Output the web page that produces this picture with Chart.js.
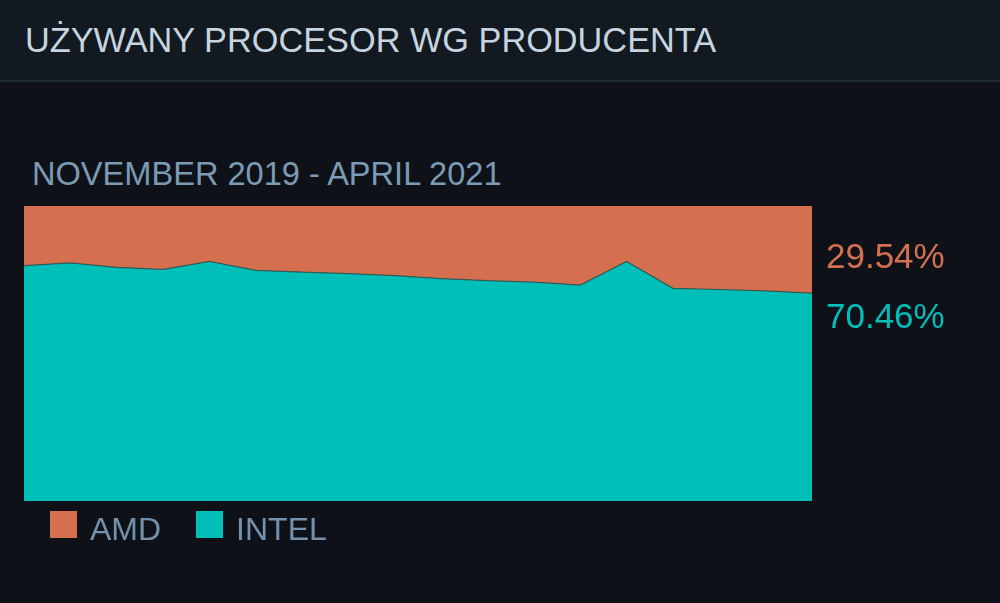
<!DOCTYPE html>
<html>
<head>
<meta charset="utf-8">
<script src="https://cdn.jsdelivr.net/npm/chart.js@4/dist/chart.umd.min.js"></script>
<style>
  body { margin: 0; background: #0e1218; font-family: "Liberation Sans", Arial, sans-serif; }
  #wrap { position: relative; width: 1000px; height: 603px; overflow: hidden; }
  #header { position: absolute; left: 0; top: 0; width: 1000px; height: 80px; background: #121921; border-bottom: 2px solid #1f2a37; }
  #title { position: absolute; left: 25px; top: 23px; font-size: 34.3px; line-height: 1; color: #c6d4df; white-space: nowrap; }
  #subtitle { position: absolute; left: 32px; top: 158px; font-size: 32.6px; line-height: 1; color: #7b9ab4; white-space: nowrap; }
  #myChart { position: absolute; left: 0; top: 0; }
  #legend { position: absolute; left: 50px; top: 511px; display: flex; }
  .item { display: flex; align-items: flex-start; }
  .box { width: 27px; height: 27px; margin-right: 13px; }
  .lbl { font-size: 32px; line-height: 1; color: #7390ad; margin-top: 2px; }
</style>
</head>
<body>
<div id="wrap">
  <div id="header"></div>
  <div id="title">UŻYWANY PROCESOR WG PRODUCENTA</div>
  <div id="subtitle">NOVEMBER 2019 - APRIL 2021</div>
  <canvas id="myChart" width="1000" height="603"></canvas>
  <div id="legend"></div>
</div>
<script>
// Datos (porcentaje de usuarios por fabricante)
const months = ["Nov 2019", "Dec 2019", "Jan 2020", "Feb 2020", "Mar 2020", "Apr 2020",
                "May 2020", "Jun 2020", "Jul 2020", "Aug 2020", "Sep 2020", "Oct 2020",
                "Nov 2020", "Dec 2020", "Jan 2021", "Feb 2021", "Mar 2021", "Apr 2021"];
const intelValues = [79.8, 80.7, 79.2, 78.5, 81.2, 78.2, 77.6, 77.1, 76.4, 75.4, 74.7, 74.2, 73.2, 81.2, 72.1, 71.7, 71.2, 70.46];
const amdValues   = [20.2, 19.3, 20.8, 21.5, 18.8, 21.8, 22.4, 22.9, 23.6, 24.6, 25.3, 25.8, 26.8, 18.8, 27.9, 28.3, 28.8, 29.54];

const amdColor = "#d4704f";
const intelColor = "#00beb8";

// Plugin que escribe el ultimo valor de cada serie a la derecha del grafico
const endLabels = {
  id: "endLabels",
  afterDraw(chart) {
    const ctx = chart.ctx;
    const meta = chart.getDatasetMeta(0);
    const last = meta.data[meta.data.length - 1];
    const x = chart.chartArea.right + 14;
    ctx.save();
    ctx.font = "35px 'Liberation Sans', Arial, sans-serif";
    ctx.textBaseline = "alphabetic";
    ctx.textAlign = "left";
    ctx.fillStyle = amdColor;
    ctx.fillText(amdValues[amdValues.length - 1].toFixed(2) + "%", x, last.y - 25);
    ctx.fillStyle = intelColor;
    ctx.fillText(intelValues[intelValues.length - 1].toFixed(2) + "%", x, last.y + 35);
    ctx.restore();
  }
};

const myChart = new Chart(document.getElementById("myChart"), {
  type: "line",
  data: {
    labels: months,
    datasets: [
      {
        label: "INTEL",
        data: intelValues,
        backgroundColor: intelColor,
        borderColor: "rgba(50,80,78,0.8)",
        borderWidth: 1.2,
        fill: "origin",
        pointRadius: 0,
        tension: 0
      },
      {
        label: "AMD",
        data: amdValues,
        backgroundColor: amdColor,
        borderColor: amdColor,
        borderWidth: 0,
        fill: "-1",
        pointRadius: 0,
        tension: 0
      }
    ]
  },
  options: {
    responsive: false,
    animation: false,
    layout: { padding: { left: 24, right: 188, top: 206, bottom: 102 } },
    scales: {
      x: { display: false, offset: false },
      y: { display: false, stacked: true, min: 0, max: 100 }
    },
    plugins: {
      legend: { display: false },
      tooltip: { enabled: false }
    }
  },
  plugins: [endLabels]
});

// Leyenda en HTML, AMD primero como en la imagen
const legend = document.getElementById("legend");
const legendItems = [myChart.data.datasets[1], myChart.data.datasets[0]];
legendItems.forEach((ds, i) => {
  const item = document.createElement("div");
  item.className = "item";
  if (i > 0) item.style.marginLeft = "35px";
  item.innerHTML = `<div class="box" style="background:${ds.backgroundColor}"></div><div class="lbl">${ds.label}</div>`;
  legend.appendChild(item);
});
</script>
</body>
</html>
